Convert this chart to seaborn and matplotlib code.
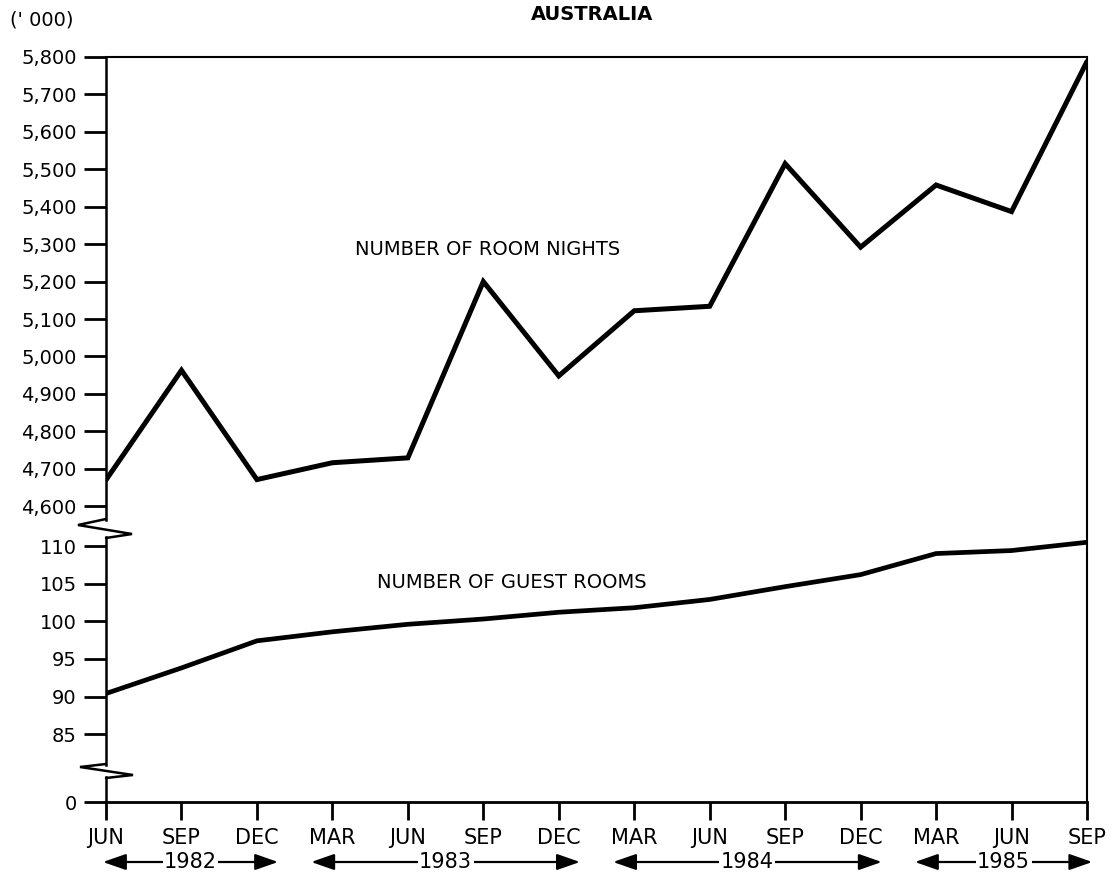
import matplotlib.pyplot as plt
import matplotlib.ticker as mticker
import matplotlib.transforms as mtransforms
import numpy as np
import pandas as pd
import seaborn as sns
from matplotlib.lines import Line2D

# quarterly data, Jun 1982 - Sep 1985 ('000)
quarters = ["JUN", "SEP", "DEC", "MAR", "JUN", "SEP", "DEC",
            "MAR", "JUN", "SEP", "DEC", "MAR", "JUN", "SEP"]
quarter_years = [1982, 1982, 1982, 1983, 1983, 1983, 1983,
                 1984, 1984, 1984, 1984, 1985, 1985, 1985]
room_nights = [4670, 4963, 4671, 4716, 4729, 5200, 4948,
               5122, 5134, 5515, 5292, 5458, 5387, 5788]
guest_rooms = [90.4, 93.8, 97.4, 98.6, 99.6, 100.3, 101.2,
               101.8, 102.9, 104.6, 106.2, 109.0, 109.4, 110.5]
nights_ticks = list(range(4600, 5801, 100))
rooms_ticks = [85, 90, 95, 100, 105, 110]

df = pd.DataFrame({
    "pos": np.arange(len(quarters)),
    "quarter": quarters,
    "year": quarter_years,
    "room_nights": room_nights,
    "guest_rooms": guest_rooms,
})

sns.set_style("ticks")
plt.rcParams["font.family"] = ["DejaVu Sans"]
plt.rcParams["axes.edgecolor"] = "black"
plt.rcParams["text.color"] = "black"
plt.rcParams["xtick.color"] = "black"
plt.rcParams["ytick.color"] = "black"
plt.rcParams["xtick.labelcolor"] = "black"
plt.rcParams["ytick.labelcolor"] = "black"

W, H = 1117, 872
fig = plt.figure(figsize=(W / 100, H / 100), dpi=100)


def fig_box(left, top, right, bottom):
    return [left / W, 1 - bottom / H, (right - left) / W, (bottom - top) / H]


def px(x, y):
    return x / W, 1 - y / H


ax_top = fig.add_axes(fig_box(106, 57, 1087, 520))
ax_mid = fig.add_axes(fig_box(106, 537, 1087, 765), sharex=ax_top)
ax_bot = fig.add_axes(fig_box(106, 777, 1087, 802), sharex=ax_top)

sns.lineplot(data=df, x="pos", y="room_nights", ax=ax_top, color="black",
             lw=3.6, solid_joinstyle="miter")
sns.lineplot(data=df, x="pos", y="guest_rooms", ax=ax_mid, color="black",
             lw=3.4, solid_joinstyle="miter")

ax_top.set_xlim(0, len(quarters) - 1)
ax_top.set_ylim(4563, 5800)
ax_mid.set_ylim(80.9, 111.2)
ax_bot.set_ylim(0, 3.3)

ax_top.set_yticks(nights_ticks)
ax_top.yaxis.set_major_formatter(mticker.StrMethodFormatter("{x:,.0f}"))
ax_mid.set_yticks(rooms_ticks)
ax_bot.set_yticks([0])

for ax in (ax_top, ax_mid, ax_bot):
    ax.set_xlabel("")
    ax.set_ylabel("")
    ax.tick_params(axis="y", direction="out", length=16, width=2, pad=5,
                   labelsize=14, color="black", labelcolor="black")
    ax.spines["right"].set_visible(False)
    ax.spines["left"].set_linewidth(1.8)
    ax.patch.set_alpha(0)

for ax in (ax_top, ax_mid):
    ax.tick_params(axis="x", bottom=False, labelbottom=False)
    ax.spines["bottom"].set_visible(False)
ax_mid.spines["top"].set_visible(False)
ax_bot.spines["top"].set_visible(False)
ax_top.spines["top"].set_linewidth(1.5)
ax_bot.spines["bottom"].set_linewidth(2)

ax_bot.set_xticks(df["pos"], df["quarter"])
ax_bot.tick_params(axis="x", direction="out", length=13, width=2, pad=6,
                   labelsize=15, color="black", labelcolor="black")

# right border runs through the breaks
fig.add_artist(Line2D(*zip(px(1087, 57), px(1087, 802)),
                      transform=fig.transFigure, color="black", lw=1.5))

# axis break marks
for pts in ([(106, 519), (78, 525), (132, 534), (106, 538)],
            [(106, 764), (80, 767), (133, 775), (106, 778)]):
    xs, ys = zip(*[px(x, y) for x, y in pts])
    fig.add_artist(Line2D(xs, ys, transform=fig.transFigure, color="black",
                          lw=1.8, solid_joinstyle="miter"))

# series labels
ax_top.text(5.06, 5287, "NUMBER OF ROOM NIGHTS", ha="center", va="center",
            fontsize=14, color="black")
ax_mid.text(5.38, 105.2, "NUMBER OF GUEST ROOMS", ha="center", va="center",
            fontsize=14, color="black")

# year spans under the month labels
trans = mtransforms.blended_transform_factory(ax_bot.transData, fig.transFigure)
year_y = 1 - 862 / H
for yr, grp in df.groupby("year"):
    start = max(grp["pos"].min() - 0.28, -0.04)
    end = min(grp["pos"].max() + 0.28, len(quarters) - 1 + 0.07)
    ax_bot.annotate("", xy=(end, year_y), xytext=(start, year_y),
                    xycoords=trans, textcoords=trans, annotation_clip=False,
                    arrowprops=dict(arrowstyle="<|-|>,head_length=1.0,head_width=0.35",
                                    color="black", lw=1.6, mutation_scale=14,
                                    shrinkA=0, shrinkB=0))
    ax_bot.text((start + end) / 2, year_y, str(yr), transform=trans,
                ha="center", va="center", fontsize=15, zorder=5, color="black",
                bbox=dict(facecolor="white", edgecolor="none", pad=1))

fig.text(592 / W, 1 - 14 / H, "AUSTRALIA", ha="center", va="center",
         fontsize=14, fontweight="bold", color="black")
fig.text(10 / W, 1 - 20 / H, "(' 000)", ha="left", va="center", fontsize=14,
         color="black")

fig.savefig("out.png", dpi=100)
